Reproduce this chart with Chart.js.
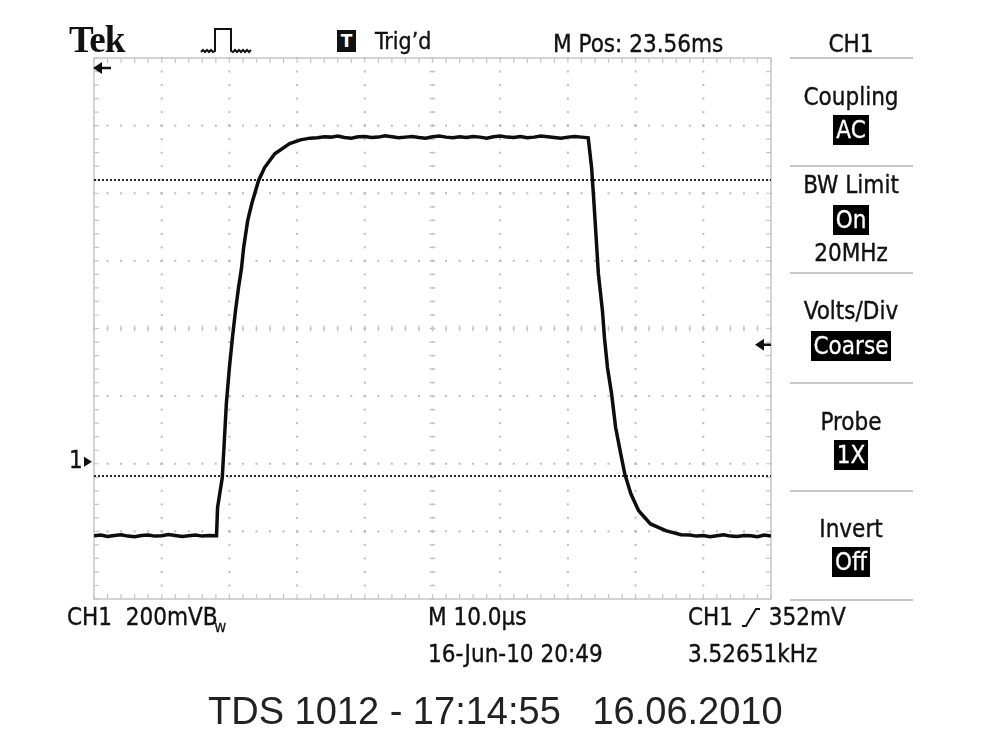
<!DOCTYPE html>
<html>
<head>
<meta charset="utf-8">
<script src="https://cdn.jsdelivr.net/npm/chart.js@4.4.1/dist/chart.umd.min.js"></script>
<style>
  html,body{margin:0;padding:0;background:#fff;}
  #wrap{position:relative;width:1000px;height:750px;overflow:hidden;background:#fff;}
  #c{position:absolute;left:0;top:0;}
  .t{position:absolute;font-family:"DejaVu Sans Condensed","Liberation Sans Narrow","DejaVu Sans",sans-serif;font-size:24px;line-height:24px;color:#111;white-space:pre;-webkit-text-stroke:0.35px #111;}
  .pan{position:absolute;left:790px;width:122px;text-align:center;font-family:"DejaVu Sans Condensed","Liberation Sans Narrow","DejaVu Sans",sans-serif;font-size:24px;line-height:24px;color:#111;white-space:pre;-webkit-text-stroke:0.35px #111;}
  .inv{display:inline-block;background:#000;color:#fff;padding:0 3px;line-height:30px;height:30px;-webkit-text-stroke:0.3px #fff;}
  .sep{position:absolute;left:790px;width:123px;height:0;border-top:2px solid #c8c8c8;}
</style>
</head>
<body>
<div id="wrap">
<canvas id="c" width="1000" height="750"></canvas>

<div class="t" style="left:69px;top:21px;font-family:'Liberation Serif','DejaVu Serif',serif;font-weight:bold;font-size:37px;line-height:37px;letter-spacing:-1px;-webkit-text-stroke:0;">Tek</div>
<svg style="position:absolute;left:198px;top:24px" width="56" height="32" viewBox="0 0 56 32">
  <polyline points="3,28 5,26 7,28 9,26 11,28 13,26 15,28 17,27 17,5 33,5 33,27 35,28 37,26 39,28 41,26 43,28 45,26 47,28 49,26 51,28 53,26" fill="none" stroke="#111" stroke-width="2"/>
</svg>
<div style="position:absolute;left:337px;top:30px;width:19px;height:22px;background:#111;color:#fff;font:bold 17px/22px 'DejaVu Sans',sans-serif;text-align:center;">T</div>
<div class="t" style="left:375px;top:29px;font-size:23px;">Trig’d</div>
<div class="t" style="left:553px;top:32px;">M Pos: 23.56ms</div>
<div class="pan" style="top:32px;">CH1</div>

<div class="sep" style="top:57px;"></div>
<div class="pan" style="top:85px;">Coupling</div>
<div class="pan" style="top:115px;"><span class="inv">AC</span></div>
<div class="sep" style="top:165px;"></div>
<div class="pan" style="top:173px;">BW Limit</div>
<div class="pan" style="top:205px;"><span class="inv">On</span></div>
<div class="pan" style="top:241px;">20MHz</div>
<div class="sep" style="top:272px;"></div>
<div class="pan" style="top:299px;">Volts/Div</div>
<div class="pan" style="top:331px;"><span class="inv">Coarse</span></div>
<div class="sep" style="top:382px;"></div>
<div class="pan" style="top:410px;">Probe</div>
<div class="pan" style="top:440px;"><span class="inv">1X</span></div>
<div class="sep" style="top:490px;"></div>
<div class="pan" style="top:517px;">Invert</div>
<div class="pan" style="top:547px;"><span class="inv">Off</span></div>
<div class="sep" style="top:599px;"></div>

<div class="t" style="left:69px;top:448px;">1</div>

<div class="t" style="left:67px;top:605px;">CH1  200mVB<span style="font-size:13px;vertical-align:-7px;margin-left:-3px;">W</span></div>
<div class="t" style="left:428px;top:605px;">M 10.0µs</div>
<div class="t" style="left:688px;top:605px;">CH1 <svg width="22" height="22" viewBox="0 0 22 22" style="vertical-align:-3px"><polyline points="2,20 6,20 16,3 20,3" fill="none" stroke="#111" stroke-width="2"/></svg> 352mV</div>
<div class="t" style="left:428px;top:642px;">16-Jun-10 20:49</div>
<div class="t" style="left:688px;top:642px;">3.52651kHz</div>

<div class="t" style="left:208px;top:692px;font-family:'Liberation Sans',Arial,sans-serif;font-size:38px;line-height:38px;color:#222;-webkit-text-stroke:0;">TDS 1012 - 17:14:55   16.06.2010</div>
</div>

<script>
// ---- data (time in µs, voltage in mV) ----
const timeUs = [
  0,1,2,3,4,5,6,7,8,9,10,11,12,13,14,15,16,17,
  18.1,18.25,18.95,19.25,19.55,20.0,20.45,20.9,21.35,21.8,22.1,22.7,23.3,24.3,25.2,26.7,28.9,30.5,31.9,
  33,34,35,36,37,38,39,40,41,42,43,44,45,46,47,48,49,50,51,52,53,54,55,56,57,58,59,60,61,62,63,64,65,66,67,68,69,70,71,72,73,
  73.5,73.8,74.2,74.5,75.1,75.4,75.85,76.45,77.05,77.8,78.4,79.3,80.45,82.2,84.45,86.7,
  88,89,90,91,92,93,94,95,96,97,98,99,100
];
const voltsMv = [
  -213,-211,-215,-212,-210,-214,-216,-212,-211,-214,-213,-209,-212,-215,-213,-211,-214,-212,
  -213,-130,-41,68,178,284,373,453,521,580,639,719,769,837,876,917,947,958,963,
  964,967,966,969,965,963,967,968,965,966,970,967,964,966,968,965,963,967,969,966,964,967,965,968,966,963,967,969,966,965,968,964,966,969,967,965,963,966,968,966,964,
  876,787,660,562,453,373,284,207,107,30,-30,-89,-139,-178,-198,-210,
  -211,-214,-212,-216,-213,-210,-214,-215,-212,-213,-216,-211,-214
];
const xTicks = [0,10,20,30,40,50,60,70,80,90,100];
const yTicks = [-400,-200,0,200,400,600,800,1000,1200];
const cursorLevelsMv = [840,-35];
const triggerLevelMv = 352;
const groundLevelMv = 0;

const points = timeUs.map((t,i)=>({x:t,y:voltsMv[i]}));

const scopeGrid = {
  id:'scopeGrid',
  beforeDatasetsDraw(chart){
    const {ctx, chartArea:a, scales:{x,y}} = chart;
    const minorX = [], minorY = [];
    for(let i=0;i<xTicks.length-1;i++){const s=(xTicks[i+1]-xTicks[i])/5;for(let k=0;k<=5;k++)minorX.push(xTicks[i]+k*s);}
    for(let i=0;i<yTicks.length-1;i++){const s=(yTicks[i+1]-yTicks[i])/5;for(let k=0;k<=5;k++)minorY.push(yTicks[i]+k*s);}
    ctx.save();
    // dotted major grid
    ctx.fillStyle='#bdbdbd';
    xTicks.slice(1,-1).forEach(v=>{const px=x.getPixelForValue(v);minorY.forEach(m=>{ctx.fillRect(px-1,y.getPixelForValue(m)-1,2,2);});});
    yTicks.slice(1,-1).forEach(v=>{const py=y.getPixelForValue(v);minorX.forEach(m=>{ctx.fillRect(x.getPixelForValue(m)-1,py-1,2,2);});});
    // border
    ctx.strokeStyle='#c6c6c6';ctx.lineWidth=1.5;
    ctx.strokeRect(a.left,a.top,a.right-a.left,a.bottom-a.top);
    // minor ticks on border
    ctx.strokeStyle='#c6c6c6';ctx.lineWidth=1.2;ctx.beginPath();
    minorX.forEach(m=>{const px=x.getPixelForValue(m);ctx.moveTo(px,a.top);ctx.lineTo(px,a.top+5);ctx.moveTo(px,a.bottom);ctx.lineTo(px,a.bottom-5);});
    minorY.forEach(m=>{const py=y.getPixelForValue(m);ctx.moveTo(a.left,py);ctx.lineTo(a.left+5,py);ctx.moveTo(a.right,py);ctx.lineTo(a.right-5,py);});
    // centre cross ticks
    const cx=x.getPixelForValue(xTicks[5]), cy=y.getPixelForValue(yTicks[4]);
    minorX.forEach(m=>{const px=x.getPixelForValue(m);ctx.moveTo(px,cy-3);ctx.lineTo(px,cy+3);});
    minorY.forEach(m=>{const py=y.getPixelForValue(m);ctx.moveTo(cx-3,py);ctx.lineTo(cx+3,py);});
    ctx.stroke();
    // cursor lines
    ctx.strokeStyle='#262626';ctx.lineWidth=2;ctx.setLineDash([2,2]);
    cursorLevelsMv.forEach(v=>{const py=Math.round(y.getPixelForValue(v));ctx.beginPath();ctx.moveTo(a.left,py);ctx.lineTo(a.right,py);ctx.stroke();});
    ctx.setLineDash([]);
    // markers
    ctx.fillStyle='#111';ctx.strokeStyle='#111';ctx.lineWidth=2.5;
    // top-left horizontal position arrow
    ctx.beginPath();ctx.moveTo(a.left-1,a.top+10);ctx.lineTo(a.left+8,a.top+4);ctx.lineTo(a.left+8,a.top+16);ctx.closePath();ctx.fill();
    ctx.beginPath();ctx.moveTo(a.left+6,a.top+10);ctx.lineTo(a.left+17,a.top+10);ctx.stroke();
    // ground marker
    const gy=y.getPixelForValue(groundLevelMv)-2;
    ctx.beginPath();ctx.moveTo(a.left-2,gy);ctx.lineTo(a.left-10,gy-5);ctx.lineTo(a.left-10,gy+5);ctx.closePath();ctx.fill();
    // trigger level marker
    const ty=y.getPixelForValue(triggerLevelMv);
    ctx.beginPath();ctx.moveTo(a.right-16,ty);ctx.lineTo(a.right-7,ty-6);ctx.lineTo(a.right-7,ty+6);ctx.closePath();ctx.fill();
    ctx.beginPath();ctx.moveTo(a.right-9,ty);ctx.lineTo(a.right,ty);ctx.stroke();
    ctx.restore();
  }
};

new Chart(document.getElementById('c'),{
  type:'scatter',
  data:{datasets:[{data:points,showLine:true,borderColor:'#0d0d0d',borderWidth:3.5,pointRadius:0,tension:0,fill:false}]},
  options:{
    responsive:false,animation:false,devicePixelRatio:1,
    layout:{padding:{left:94,right:229,top:58,bottom:151}},
    plugins:{legend:{display:false},tooltip:{enabled:false}},
    scales:{
      x:{type:'linear',min:xTicks[0],max:xTicks[xTicks.length-1],display:false},
      y:{type:'linear',min:yTicks[0],max:yTicks[yTicks.length-1],display:false}
    }
  },
  plugins:[scopeGrid]
});
</script>
</body>
</html>
